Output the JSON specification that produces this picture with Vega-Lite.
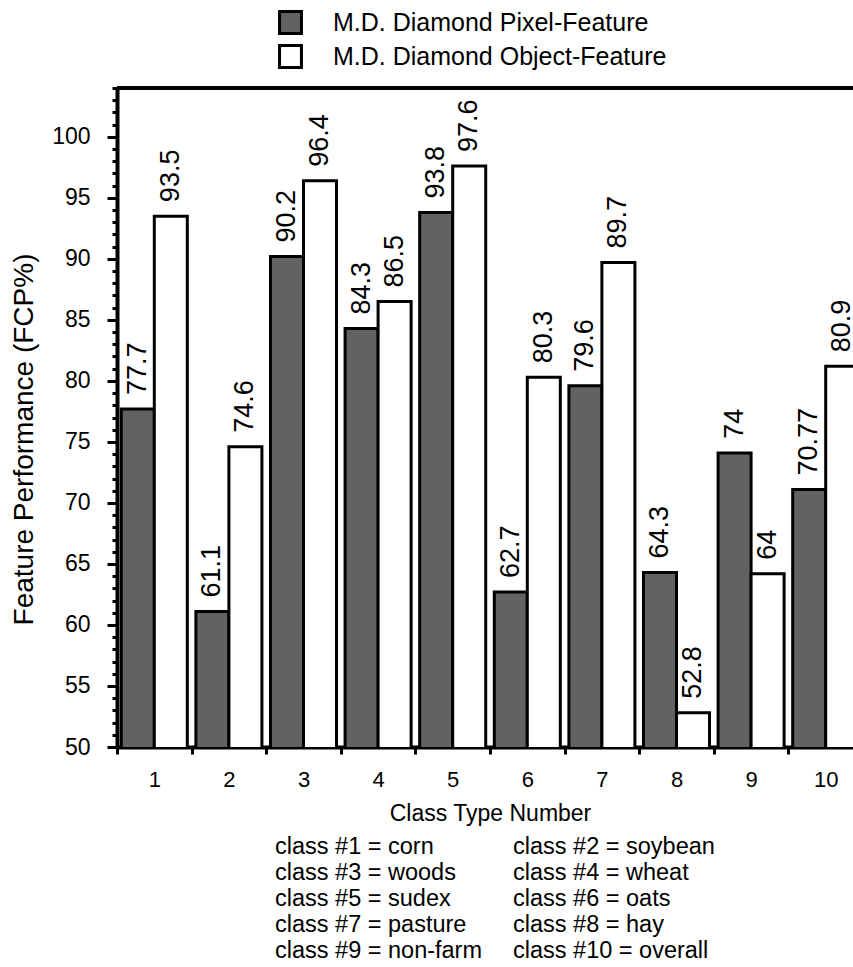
{
  "$schema": "https://vega.github.io/schema/vega-lite/v6.json",
  "width": 736,
  "height": 659,
  "autosize": {"type": "none"},
  "padding": {"left": 117, "top": 88, "right": 0, "bottom": 220},
  "background": "white",
  "config": {
    "view": {"stroke": null},
    "font": "Liberation Sans",
    "text": {"font": "Liberation Sans", "color": "black"}
  },
  "datasets": {
    "bars": [
      {"cls": "1", "series": "M.D. Diamond Pixel-Feature", "value": 77.7, "label": "77.7"},
      {"cls": "1", "series": "M.D. Diamond Object-Feature", "value": 93.5, "label": "93.5"},
      {"cls": "2", "series": "M.D. Diamond Pixel-Feature", "value": 61.1, "label": "61.1"},
      {"cls": "2", "series": "M.D. Diamond Object-Feature", "value": 74.6, "label": "74.6"},
      {"cls": "3", "series": "M.D. Diamond Pixel-Feature", "value": 90.2, "label": "90.2"},
      {"cls": "3", "series": "M.D. Diamond Object-Feature", "value": 96.4, "label": "96.4"},
      {"cls": "4", "series": "M.D. Diamond Pixel-Feature", "value": 84.3, "label": "84.3"},
      {"cls": "4", "series": "M.D. Diamond Object-Feature", "value": 86.5, "label": "86.5"},
      {"cls": "5", "series": "M.D. Diamond Pixel-Feature", "value": 93.8, "label": "93.8"},
      {"cls": "5", "series": "M.D. Diamond Object-Feature", "value": 97.6, "label": "97.6"},
      {"cls": "6", "series": "M.D. Diamond Pixel-Feature", "value": 62.7, "label": "62.7"},
      {"cls": "6", "series": "M.D. Diamond Object-Feature", "value": 80.3, "label": "80.3"},
      {"cls": "7", "series": "M.D. Diamond Pixel-Feature", "value": 79.6, "label": "79.6"},
      {"cls": "7", "series": "M.D. Diamond Object-Feature", "value": 89.7, "label": "89.7"},
      {"cls": "8", "series": "M.D. Diamond Pixel-Feature", "value": 64.3, "label": "64.3"},
      {"cls": "8", "series": "M.D. Diamond Object-Feature", "value": 52.8, "label": "52.8"},
      {"cls": "9", "series": "M.D. Diamond Pixel-Feature", "value": 74.1, "label": "74"},
      {"cls": "9", "series": "M.D. Diamond Object-Feature", "value": 64.2, "label": "64"},
      {"cls": "10", "series": "M.D. Diamond Pixel-Feature", "value": 71.1, "label": "70.77"},
      {"cls": "10", "series": "M.D. Diamond Object-Feature", "value": 81.2, "label": "80.9"}
    ],
    "caption": [
      {"col": 1, "row": 1, "text": "class #1 = corn"},
      {"col": 2, "row": 1, "text": "class #2 = soybean"},
      {"col": 1, "row": 2, "text": "class #3 = woods"},
      {"col": 2, "row": 2, "text": "class #4 = wheat"},
      {"col": 1, "row": 3, "text": "class #5 = sudex"},
      {"col": 2, "row": 3, "text": "class #6 = oats"},
      {"col": 1, "row": 4, "text": "class #7 = pasture"},
      {"col": 2, "row": 4, "text": "class #8 = hay"},
      {"col": 1, "row": 5, "text": "class #9 = non-farm"},
      {"col": 2, "row": 5, "text": "class #10 = overall"}
    ],
    "border": [{"level": 104}]
  },
  "layer": [
    {
      "data": {"name": "bars"},
      "encoding": {
        "x": {
          "field": "cls",
          "type": "ordinal",
          "sort": ["1","2","3","4","5","6","7","8","9","10"],
          "scale": {"range": [0, 746], "paddingInner": 0, "paddingOuter": 0},
          "axis": {
            "title": "Class Type Number",
            "titleFontSize": 23,
            "titleFont": "Liberation Sans",
            "titleFontWeight": "normal",
            "titleColor": "black",
            "titlePadding": 12,
            "labelFontSize": 22,
            "labelFont": "Liberation Sans",
            "labelColor": "black",
            "labelAngle": 0,
            "labelPadding": 15,
            "tickBand": "extent",
            "tickSize": 7,
            "tickWidth": 3,
            "tickColor": "black",
            "domainWidth": 4,
            "domainColor": "black",
            "grid": false
          }
        },
        "xOffset": {
          "field": "series",
          "type": "nominal",
          "scale": {"domain": ["M.D. Diamond Pixel-Feature", "M.D. Diamond Object-Feature"], "paddingOuter": 0.13, "paddingInner": 0}
        },
        "y": {
          "field": "value",
          "type": "quantitative",
          "scale": {"domain": [50, 104], "nice": false, "zero": false},
          "axis": {
            "title": "Feature Performance (FCP%)",
            "titleFontSize": 28,
            "titleFont": "Liberation Sans",
            "titleFontWeight": "normal",
            "titleColor": "black",
            "titleX": -85,
            "titleY": 351,
            "titleAlign": "center",
            "titleBaseline": "alphabetic",
            "titleAngle": 270,
            "values": [50,51,52,53,54,55,56,57,58,59,60,61,62,63,64,65,66,67,68,69,70,71,72,73,74,75,76,77,78,79,80,81,82,83,84,85,86,87,88,89,90,91,92,93,94,95,96,97,98,99,100,101,102,103,104],
            "labelExpr": "datum.value % 5 === 0 ? datum.label : ''",
            "labelOverlap": false,
            "labelFontSize": 23,
            "labelFont": "Liberation Sans",
            "labelColor": "black",
            "labelPadding": 17,
            "tickSize": {"condition": {"test": "datum.value % 5 === 0", "value": 10}, "value": 5},
            "tickWidth": 3,
            "tickColor": "black",
            "domainWidth": 4,
            "domainColor": "black",
            "grid": false
          }
        }
      },
      "layer": [
        {
          "mark": {"type": "bar", "stroke": "black", "strokeWidth": 3, "clip": true},
          "encoding": {
            "fill": {
              "field": "series",
              "type": "nominal",
              "scale": {"domain": ["M.D. Diamond Pixel-Feature", "M.D. Diamond Object-Feature"], "range": ["#626262", "#ffffff"]},
              "legend": {
                "title": null,
                "orient": "none",
                "legendX": 161,
                "legendY": -78,
                "direction": "vertical",
                "padding": 0,
                "symbolType": "square",
                "symbolSize": 480,
                "symbolStrokeColor": "black",
                "symbolStrokeWidth": 3,
                "symbolOpacity": 1,
                "labelFontSize": 25,
                "labelFont": "Liberation Sans",
                "labelColor": "black",
                "labelOffset": 30,
                "labelLimit": 500,
                "rowPadding": -1
              }
            }
          }
        },
        {
          "mark": {"type": "text", "angle": 270, "align": "left", "baseline": "middle", "dx": 14, "fontSize": 27, "clip": true},
          "encoding": {"text": {"field": "label"}}
        }
      ]
    },
    {
      "data": {"name": "border"},
      "mark": {"type": "rule", "strokeWidth": 4, "color": "black"},
      "encoding": {
        "y": {"field": "level", "type": "quantitative", "scale": {"domain": [50, 104], "nice": false, "zero": false}, "axis": null}
      }
    },
    {
      "data": {"name": "caption"},
      "mark": {"type": "text", "align": "left", "baseline": "middle", "fontSize": 23.5},
      "encoding": {
        "x": {"field": "col", "type": "quantitative", "scale": {"domain": [1, 2], "range": [158, 396]}, "axis": null},
        "y": {"field": "row", "type": "quantitative", "scale": {"domain": [1, 5], "range": [759, 863], "zero": false, "nice": false}, "axis": null},
        "text": {"field": "text"}
      }
    }
  ],
  "resolve": {"scale": {"x": "independent", "y": "independent"}, "axis": {"x": "independent", "y": "independent"}}
}
